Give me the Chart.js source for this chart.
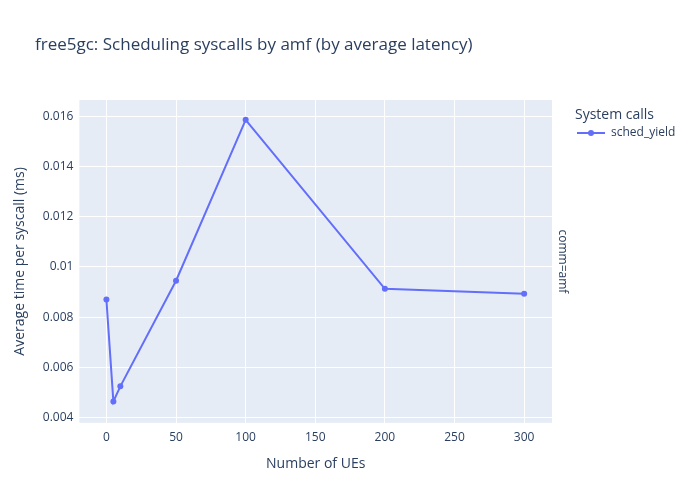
<!DOCTYPE html>
<html><head><script src="https://cdn.jsdelivr.net/npm/chart.js@4"></script>
<style>body{margin:0;background:#fff}#w{width:700px;height:500px}</style></head>
<body><div id="w"><canvas id="c"></canvas></div>
<script>
const ues = [0, 5, 10, 50, 100, 200, 300];
const schedYield = [0.0087, 0.00465, 0.00525, 0.00945, 0.01585, 0.00913, 0.00893];
const yTickLabels = {0.004:'0.004',0.006:'0.006',0.008:'0.008',0.01:'0.01',0.012:'0.012',0.014:'0.014',0.016:'0.016'};
const FONT = '"Open Sans", sans-serif';
const TXT = '#2a3f5f';
const deco = {
  id:'deco',
  beforeDraw(ch){
    const a=ch.chartArea, x=ch.ctx;
    x.save(); x.fillStyle='#E5ECF6'; x.fillRect(a.left,a.top,a.right-a.left,a.bottom-a.top); x.restore();
  },
  afterDraw(ch){
    const a=ch.chartArea, x=ch.ctx;
    x.save();
    x.fillStyle=TXT; x.font='17px '+FONT; x.textBaseline='middle';
    x.fillText('free5gc: Scheduling syscalls by amf (by average latency)',35,45);
    x.font='14px '+FONT; x.fillText('System calls',575,115);
    x.strokeStyle='#636efa'; x.lineWidth=2; x.beginPath(); x.moveTo(577,133); x.lineTo(605,133); x.stroke();
    x.fillStyle='#636efa'; x.beginPath(); x.arc(591,133,3,0,Math.PI*2); x.fill();
    x.fillStyle=TXT; x.font='12px '+FONT; x.fillText('sched_yield',611,133);
    x.translate(562,(a.top+a.bottom)/2); x.rotate(Math.PI/2); x.textAlign='center';
    x.fillText('comm=amf',0,0);
    x.restore();
  }
};
new Chart(document.getElementById('c'),{
  type:'line',
  data:{datasets:[{data:ues.map((u,i)=>({x:u,y:schedYield[i]})),borderColor:'#636efa',backgroundColor:'#636efa',borderWidth:2,pointRadius:3,pointBorderWidth:0,tension:0}]},
  options:{
    responsive:true,maintainAspectRatio:false,animation:false,
    layout:{padding:{top:100,right:148,left:8,bottom:24}},
    plugins:{legend:{display:false},tooltip:{enabled:false}},
    scales:{
      x:{type:'linear',min:-19.4,max:320,grid:{color:'#fff',lineWidth:1,drawTicks:false},border:{display:false},
        afterBuildTicks(s){s.ticks=[0,50,100,150,200,250,300].map(v=>({value:v}));},
        ticks:{color:TXT,font:{family:FONT,size:12},padding:8},
        title:{display:true,text:'Number of UEs',color:TXT,font:{family:FONT,size:14},padding:{top:2}}},
      y:{min:0.0038,max:0.01664,grid:{color:'#fff',lineWidth:1,drawTicks:false},border:{display:false},
        afterBuildTicks(s){s.ticks=[0.004,0.006,0.008,0.01,0.012,0.014,0.016].map(v=>({value:v}));},
        ticks:{color:TXT,font:{family:FONT,size:12},padding:6,callback:v=>yTickLabels[Math.round(v*1000)/1000]??''},
        title:{display:true,text:'Average time per syscall (ms)',color:TXT,font:{family:FONT,size:14},padding:{bottom:8}}}
    }
  },
  plugins:[deco]
});
</script></body></html>
